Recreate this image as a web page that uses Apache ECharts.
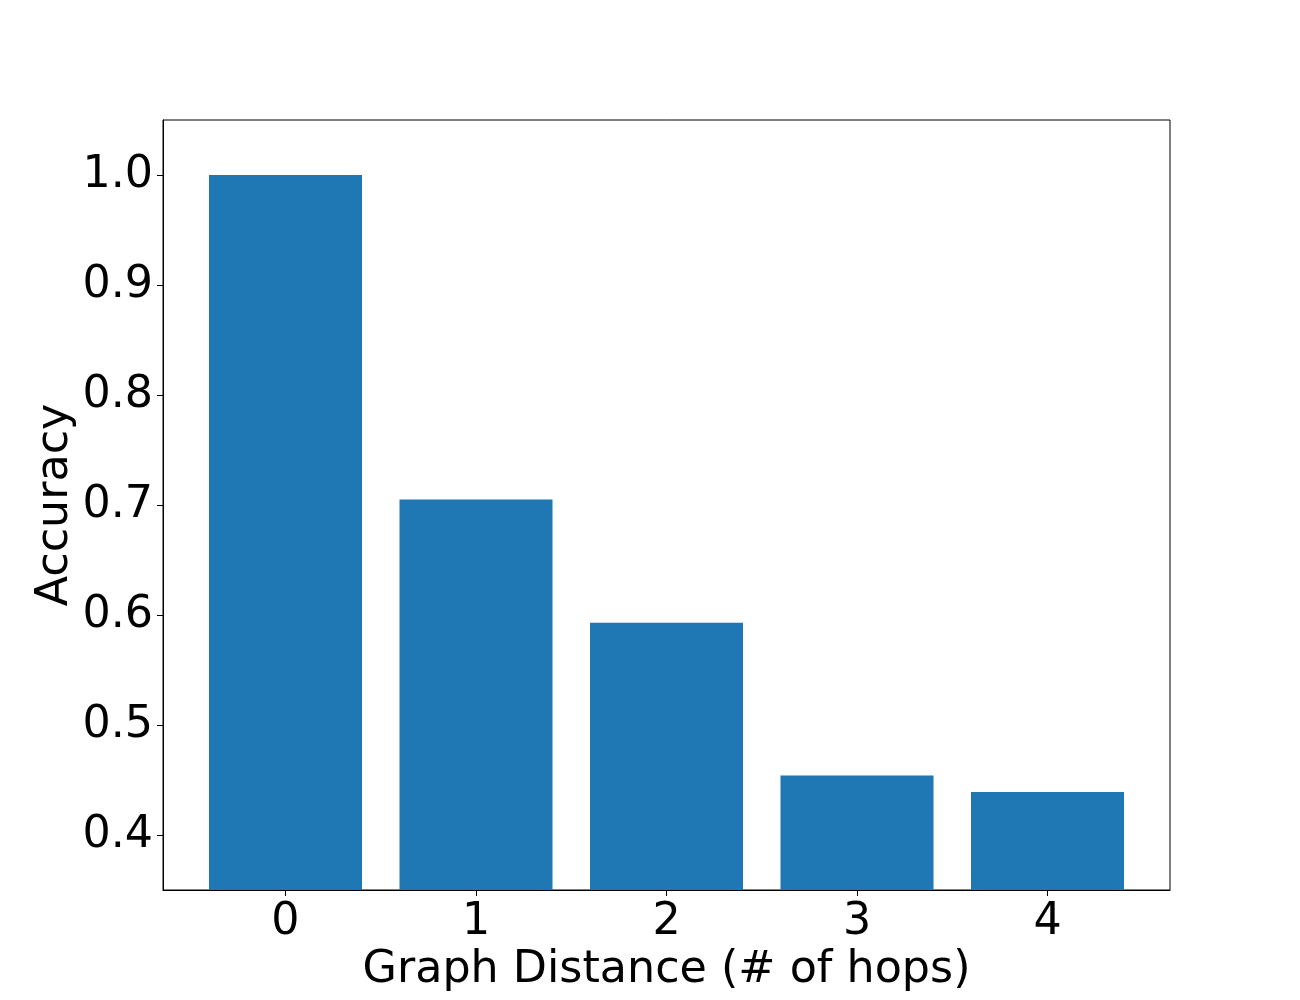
<!DOCTYPE html>
<html>
<head>
<meta charset="utf-8">
<script src="https://cdn.jsdelivr.net/npm/echarts@6/dist/echarts.min.js"></script>
<style>
  html, body { margin: 0; padding: 0; background: #fff; }
  #chart { width: 1300px; height: 1000px; }
</style>
</head>
<body>
<div id="chart"></div>
<script>
// 图表数据
const hops = [0, 1, 2, 3, 4];
const accuracy = [1.0, 0.705, 0.593, 0.454, 0.439];
const yTicks = [0.4, 0.5, 0.6, 0.7, 0.8, 0.9, 1.0];

const font = 'DejaVu Sans';
let myChart = echarts.init(document.getElementById('chart'));
myChart.setOption({
  animation: false,
  grid: {
    left: 163, right: 130, top: 120, bottom: 110,
    show: true, borderColor: '#000', borderWidth: 1,
    containLabel: false,
    outerBoundsMode: 'none'
  },
  xAxis: {
    type: 'value',
    min: -0.643,
    max: 4.643,
    name: 'Graph Distance (# of hops)',
    nameLocation: 'middle',
    nameGap: 58,
    nameTextStyle: { fontFamily: font, fontSize: 44.4, color: '#000' },
    axisLine: { show: true, onZero: false, lineStyle: { color: '#000', width: 1 } },
    axisTick: { show: true, length: 6, customValues: hops, lineStyle: { color: '#000' } },
    axisLabel: {
      customValues: hops, margin: 10,
      fontFamily: font, fontSize: 44.4, color: '#000'
    },
    splitLine: { show: false }
  },
  yAxis: {
    type: 'value',
    min: 0.35,
    max: 1.05,
    name: 'Accuracy',
    nameLocation: 'middle',
    nameGap: 86,
    nameMoveOverlap: false,
    nameTextStyle: { fontFamily: font, fontSize: 44.4, color: '#000' },
    axisLine: { show: true, onZero: false, lineStyle: { color: '#000', width: 1 } },
    axisTick: { show: true, length: 6, customValues: yTicks, lineStyle: { color: '#000' } },
    axisLabel: {
      customValues: yTicks, margin: 10,
      fontFamily: font, fontSize: 44.4, color: '#000',
      formatter: v => v.toFixed(1)
    },
    splitLine: { show: false }
  },
  series: [{
    type: 'bar',
    barWidth: 153,
    itemStyle: { color: '#1f77b4' },
    data: hops.map((h, i) => [h, accuracy[i]])
  }]
});
</script>
</body>
</html>
